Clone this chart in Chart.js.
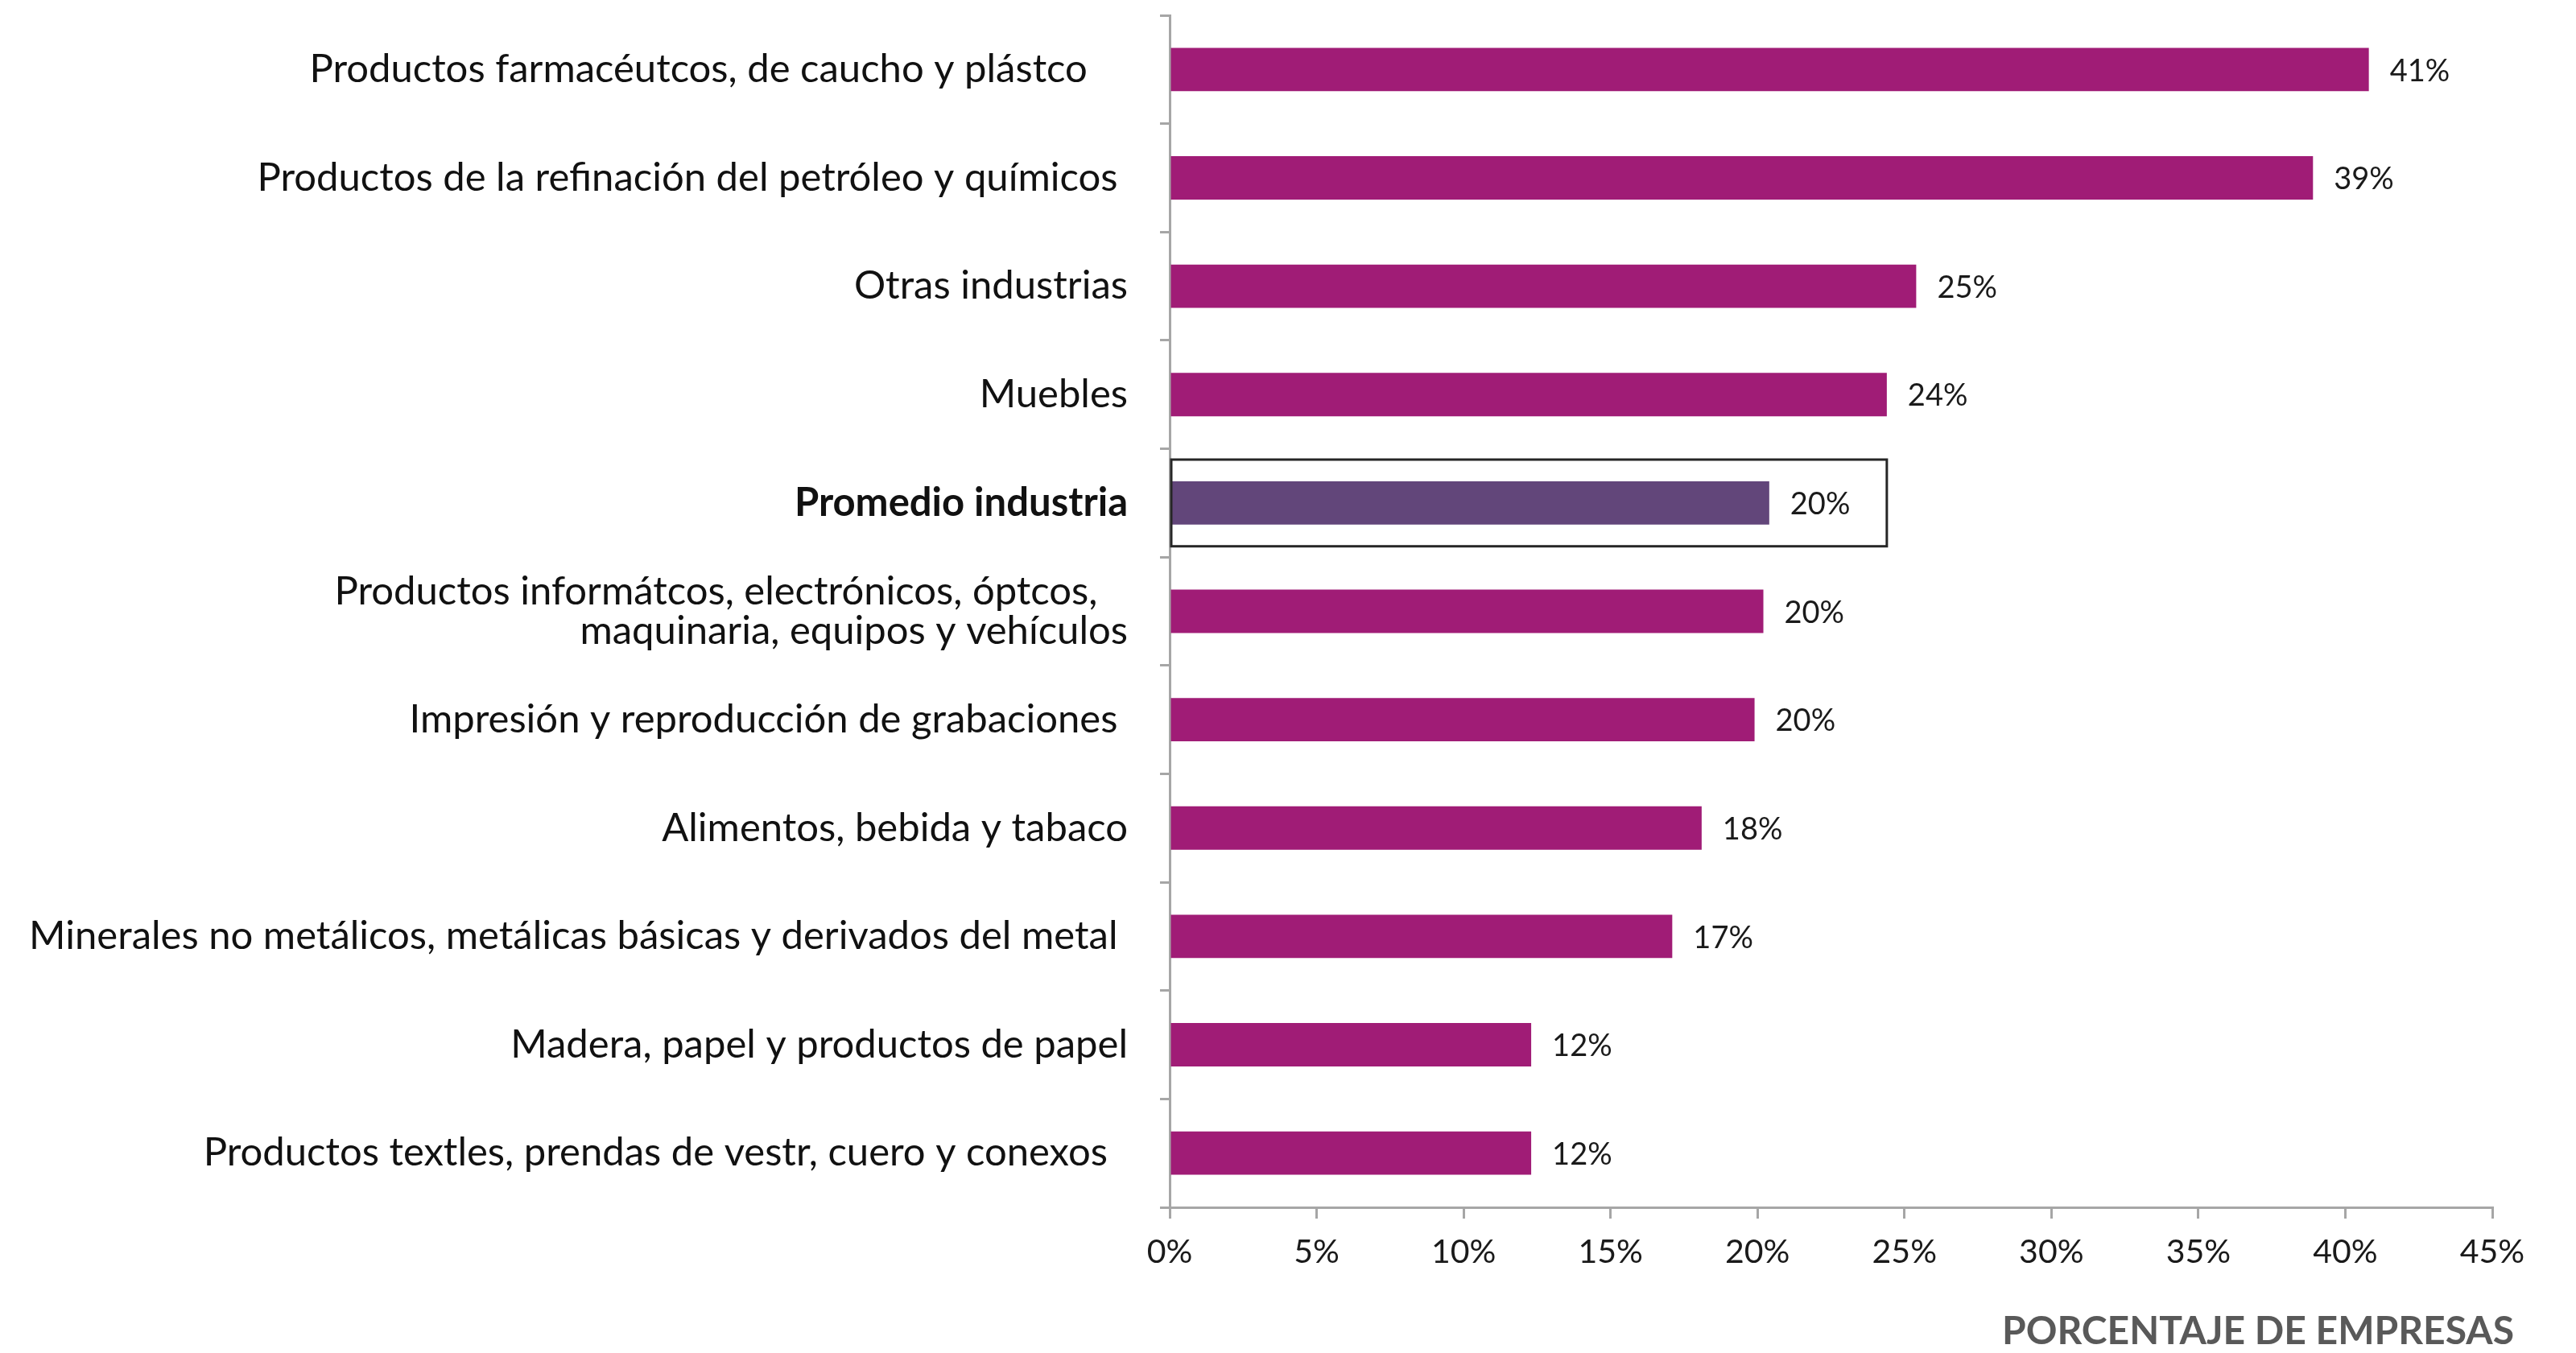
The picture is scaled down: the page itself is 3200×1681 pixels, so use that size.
<html>
<head>
<script src="https://cdn.jsdelivr.net/npm/chart.js@4.4.1/dist/chart.umd.min.js"></script>
<style>
	body { margin: 0; background: #fff; }
</style>
</head>
<body>
<div class="chart-container">
	<canvas id="mychart" width="3200" height="1681"></canvas>
</div>
<script>
// sectors, top to bottom
let sectors = [
	'Productos farmacéutcos, de caucho y plástco    ',
	'Productos de la refinación del petróleo y químicos ',
	'Otras industrias',
	'Muebles',
	'Promedio industria',
	['Productos informátcos, electrónicos, óptcos,   ', 'maquinaria, equipos y vehículos'],
	'Impresión y reproducción de grabaciones ',
	'Alimentos, bebida y tabaco',
	'Minerales no metálicos, metálicas básicas y derivados del metal ',
	'Madera, papel y productos de papel',
	'Productos textles, prendas de vestr, cuero y conexos  '
];
// share of firms, %
let shares = [40.8, 38.9, 25.4, 24.4, 20.4, 20.2, 19.9, 18.1, 17.1, 12.3, 12.3];
let xTicks = [0, 5, 10, 15, 20, 25, 30, 35, 40, 45];
let averageIndex = 4;
let averageBoxTo = 24.4;
let axisTitle = 'PORCENTAJE DE EMPRESAS';

let barColor = '#A01C76';
let avgColor = '#62467A';
let axisGrey = '#A6A6A6';
let fontName = 'Lato';

let colors = shares.map(function(v, i){ return i == averageIndex ? avgColor : barColor; });

// value labels at the end of each bar
let valueLabels = {
	id: 'valueLabels',
	afterDatasetsDraw: function(chart){
		let ctx = chart.ctx;
		let meta = chart.getDatasetMeta(0);
		ctx.save();
		ctx.font = '38px ' + fontName;
		ctx.fillStyle = '#1a1a1a';
		ctx.textAlign = 'left';
		ctx.textBaseline = 'middle';
		meta.data.forEach(function(bar, i){
			ctx.fillText(Math.round(shares[i]) + '%', bar.x + 26, bar.y + 2);
		});
		ctx.restore();
	}
};

// frame around the industry average row + bottom axis title
let averageBox = {
	id: 'averageBox',
	afterDraw: function(chart){
		let ctx = chart.ctx;
		let x = chart.scales.x;
		let y = chart.scales.y;
		let step = (y.bottom - y.top) / sectors.length;
		let cy = y.getPixelForValue(averageIndex);
		ctx.save();
		ctx.strokeStyle = '#262626';
		ctx.lineWidth = 3;
		ctx.strokeRect(x.getPixelForValue(0) + 2, cy - step * 0.4, x.getPixelForValue(averageBoxTo) - x.getPixelForValue(0) - 2, step * 0.8);

		ctx.font = 'bold 48px ' + fontName;
		ctx.fillStyle = '#595959';
		ctx.textAlign = 'right';
		ctx.textBaseline = 'middle';
		ctx.fillText(axisTitle, x.right + 27, 1655);
		ctx.restore();
	}
};

let chart = new Chart(document.getElementById('mychart'), {
	type: 'bar',
	data: {
		labels: sectors,
		datasets: [{
			data: shares,
			backgroundColor: colors,
			borderWidth: 0,
			barPercentage: 0.4,
			categoryPercentage: 1
		}]
	},
	options: {
		indexAxis: 'y',
		responsive: false,
		animation: false,
		layout: { padding: { top: 19, right: 104, left: 0, bottom: 0 } },
		plugins: {
			legend: { display: false },
			tooltip: { enabled: false }
		},
		scales: {
			x: {
				min: 0,
				max: 45,
				afterBuildTicks: function(scale){
					scale.ticks = xTicks.map(function(v){ return { value: v }; });
				},
				afterFit: function(scale){ scale.height = 181; },
				ticks: {
					callback: function(v){ return v + '%'; },
					font: { family: fontName, size: 41 },
					color: '#1a1a1a',
					padding: 17,
					maxRotation: 0
				},
				grid: {
					drawOnChartArea: false,
					drawTicks: true,
					tickLength: 14,
					color: axisGrey,
					lineWidth: 3
				},
				border: { display: true, color: axisGrey, width: 3 }
			},
			y: {
				afterFit: function(scale){
					scale.width = 1453;
					scale.paddingTop = 0;
					scale.paddingBottom = 0;
				},
				ticks: {
					font: function(c){
						return { family: fontName, size: 49, weight: c.index == averageIndex ? 'bold' : 'normal', lineHeight: 1.0 };
					},
					color: '#111',
					padding: 40
				},
				grid: {
					drawOnChartArea: false,
					drawTicks: true,
					tickLength: 12,
					color: axisGrey,
					lineWidth: 3
				},
				border: { display: true, color: axisGrey, width: 3 }
			}
		}
	},
	plugins: [valueLabels, averageBox]
});
</script>
</body>
</html>
